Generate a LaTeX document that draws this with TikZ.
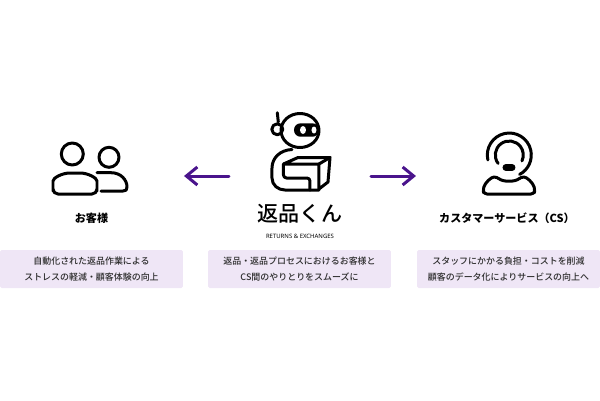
\documentclass[tikz,border=0pt]{standalone}
\usepackage{fontspec}
\setmainfont{Noto Sans CJK JP}
\setsansfont{Noto Sans}
\newfontfamily\jpmedium{Noto Sans CJK JP Medium}
\usetikzlibrary{arrows.meta}
\definecolor{boxfill}{HTML}{EFE6F6}
\definecolor{arrowcol}{HTML}{4A148C}
\definecolor{textcol}{HTML}{2E2E2E}
\tikzset{
    icon/.style={draw=black,line width=0.06cm,line cap=round,line join=round},
    infobox/.style={fill=boxfill,rounded corners=0.03cm,minimum width=3.66cm,minimum height=0.76cm,
        align=center,text=textcol,inner sep=0pt,font=\jpmedium\fontsize{5.1}{9.1}\selectfont},
    title/.style={text=black,inner sep=0pt,font=\bfseries\fontsize{6.3}{8}\selectfont},
    flow/.style={->,draw=arrowcol,line width=0.06cm,line cap=round}
}
\begin{document}
\begin{tikzpicture}[x=0.02cm,y=-0.02cm,>={Straight Barb[length=0.22cm,width=0.36cm,line width=0.06cm]}]
    \useasboundingbox (0,0) rectangle (600,400);
    % boxes
    \node[infobox] (custbox) at (91.5,269) {自動化された返品作業による\\ストレスの軽減・顧客体験の向上};
    \node[infobox] (robotbox) at (299.5,269) {返品・返品プロセスにおけるお客様と\\CS間のやりとりをスムーズに};
    \node[infobox] (csbox) at (508.5,269) {スタッフにかかる負担・コストを削減\\顧客のデータ化によりサービスの向上へ};
    % titles
    \node[title] (custtitle) at (91.5,218) {お客様};
    \node[title] (cstitle) at (507,218) {カスタマーサービス（CS）};
    \node[inner sep=0pt,font=\jpmedium\fontsize{12}{14}\selectfont] (logo) at (300,214) {返品くん};
    \node[inner sep=0pt,font=\sffamily\bfseries\fontsize{3.4}{4}\selectfont] (logosub) at (300,236) {RETURNS \& EXCHANGES};
    % customer icon
    \draw[icon] (72.3,154) circle[radius=11];
    \draw[icon] (109,157.3) circle[radius=10];
    \draw[icon,rounded corners=0.1cm] (53,194) -- (53,186) .. controls (53,178) and (62,173) .. (75,173)
        .. controls (88,173) and (97,178) .. (97,186) -- (97,194) -- cycle;
    \draw[icon] (97,172.7) -- (111,172.7) .. controls (121,172.7) and (127,180) .. (127,187)
        .. controls (127,190) and (126,191) .. (123,191) -- (101,191);
    % cs icon
    \draw[icon] (509.3,155) ++(167:22) arc[start angle=167,end angle=422,radius=22];
    \draw[icon] (509.3,155) ++(143:14) arc[start angle=143,end angle=385,radius=14];
    \draw[icon,line width=0.14cm] (506,167.5) -- (512,167.5);
    \draw[icon,rounded corners=0.06cm] (484,194) -- (483,190) .. controls (485,183) and (491,177) .. (497,177)
        .. controls (503,182) and (515,182) .. (521,177) .. controls (527,177) and (533,183) .. (535,190) -- (534,194) -- cycle;
    % robot
    \draw[icon] (277.3,112.7) -- (278.3,122);
    \draw[icon] (277.3,129.3) circle[radius=5.5];
    \draw[icon] (300,130.5) ellipse[x radius=19,y radius=17];
    \fill[black,rounded corners=0.13cm] (294,123.3) rectangle (319,136.7);
    \fill[white] (303,130) ellipse[x radius=3,y radius=4];
    \fill[white] (314,130) ellipse[x radius=2.5,y radius=3.5];
    \draw[icon] (292,149.5) .. controls (280,150) and (272,158) .. (272,168) -- (272,178)
        .. controls (272,185) and (278,190) .. (285,190) -- (319,190);
    \draw[icon] (283.5,164) -- (319,164) -- (319,189) -- (328,182) -- (330,157.5) -- (298,157.5) -- cycle;
    \draw[icon] (319,164) -- (330,157.5);
    \draw[icon,rounded corners=0.06cm] (283.5,164) -- (283.5,178) -- (310,178) -- (310,190);
    % arrows
    \coordinate (robotleft) at (229,176);
    \coordinate (custright) at (184,176);
    \coordinate (robotright) at (371,176);
    \coordinate (csleft) at (416,176);
    \draw[flow] (robotleft) -- (custright);
    \draw[flow] (robotright) -- (csleft);
\end{tikzpicture}
\end{document}
